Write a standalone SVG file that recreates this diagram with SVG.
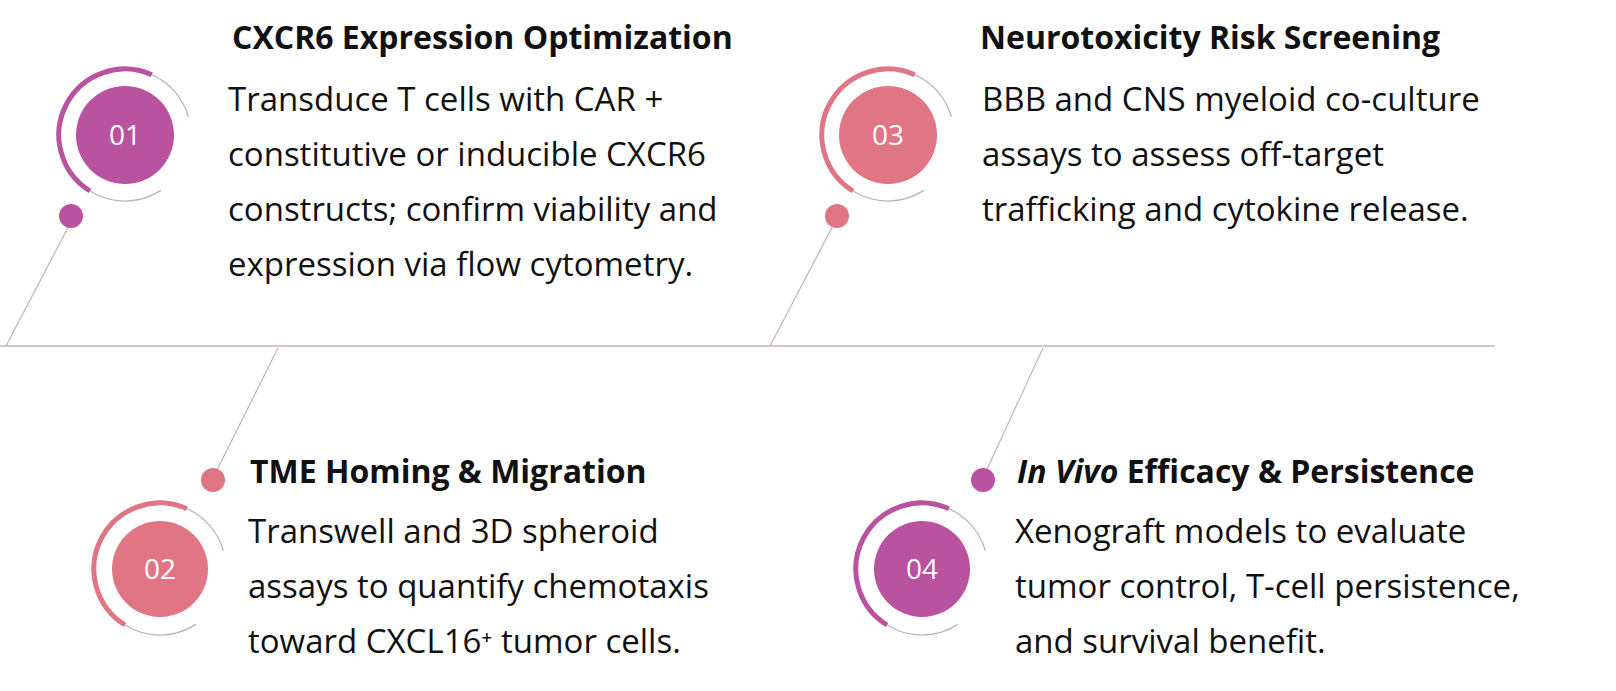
<svg xmlns="http://www.w3.org/2000/svg" width="1616" height="691" viewBox="0 0 1616 691">
<style>
.t{font-family:"Open Sans","Liberation Sans",sans-serif;font-size:32px;font-weight:bold;fill:#111}
.b{font-family:"Open Sans","Liberation Sans",sans-serif;font-size:33px;fill:#111}
.n{font-family:"Open Sans","Liberation Sans",sans-serif;font-size:28px;fill:#fff;text-anchor:middle}
.thin{fill:none;stroke:#b8b8b8;stroke-width:1.3}
.ln{stroke:#c9b5bf;stroke-width:1.3;fill:none}
.p{fill:#B9529F}.k{fill:#E07585}
.tp{fill:none;stroke:#B9529F;stroke-width:5}.tk{fill:none;stroke:#E07585;stroke-width:5}
</style>
<defs>
<g id="ring"><path class="thin" d="M26.8,-60.3 A66,66 0 0 1 63.4,-18.2 M35.9,55.4 A66,66 0 0 1 -35,56"/></g>
<path id="arc" d="M26.8,-60.3 A66,66 0 0 0 -35,56"/>
</defs>
<rect width="1616" height="691" fill="#fff"/>
<g id="connectors">
<line class="ln" x1="0" y1="346" x2="1495" y2="346" stroke="#d0d0d0"/>
<line class="ln" x1="73" y1="218" x2="6" y2="346"/>
<line class="ln" x1="278" y1="348" x2="213" y2="478"/>
<line class="ln" x1="837" y1="218" x2="770" y2="346"/>
<line class="ln" x1="1043" y1="348" x2="983" y2="478"/>
</g>
<g id="node1">
<g transform="translate(125,135)"><use href="#ring"/><use href="#arc" class="tp"/><circle r="49" class="p"/><text class="n" y="10">01</text></g>
<circle cx="71" cy="216" r="12" class="p"/>
<text class="t" x="232" y="49">CXCR6 Expression Optimization</text>
<text class="b"><tspan x="228" y="111">Transduce T cells with CAR +</tspan><tspan x="228" y="166">constitutive or inducible CXCR6</tspan><tspan x="228" y="221">constructs; confirm viability and</tspan><tspan x="228" y="276">expression via flow cytometry.</tspan></text>
</g>
<g id="node2">
<g transform="translate(160,569)"><use href="#ring"/><use href="#arc" class="tk"/><circle r="48" class="k"/><text class="n" y="10">02</text></g>
<circle cx="213" cy="480" r="12" class="k"/>
<text class="t" x="250" y="483">TME Homing &amp; Migration</text>
<text class="b"><tspan x="248" y="543">Transwell and 3D spheroid</tspan><tspan x="248" y="598">assays to quantify chemotaxis</tspan><tspan x="248" y="653">toward CXCL16⁺ tumor cells.</tspan></text>
</g>
<g id="node3">
<g transform="translate(888,135)"><use href="#ring"/><use href="#arc" class="tk"/><circle r="49" class="k"/><text class="n" y="10">03</text></g>
<circle cx="837" cy="216" r="12" class="k"/>
<text class="t" x="980" y="49">Neurotoxicity Risk Screening</text>
<text class="b"><tspan x="982" y="111">BBB and CNS myeloid co-culture</tspan><tspan x="982" y="166">assays to assess off-target</tspan><tspan x="982" y="221">trafficking and cytokine release.</tspan></text>
</g>
<g id="node4">
<g transform="translate(922,569)"><use href="#ring"/><use href="#arc" class="tp"/><circle r="48" class="p"/><text class="n" y="10">04</text></g>
<circle cx="983" cy="480" r="12" class="p"/>
<text class="t" x="1017" y="483"><tspan font-style="italic">In Vivo</tspan> Efficacy &amp; Persistence</text>
<text class="b"><tspan x="1015" y="543">Xenograft models to evaluate</tspan><tspan x="1015" y="598">tumor control, T-cell persistence,</tspan><tspan x="1015" y="653">and survival benefit.</tspan></text>
</g>
</svg>
